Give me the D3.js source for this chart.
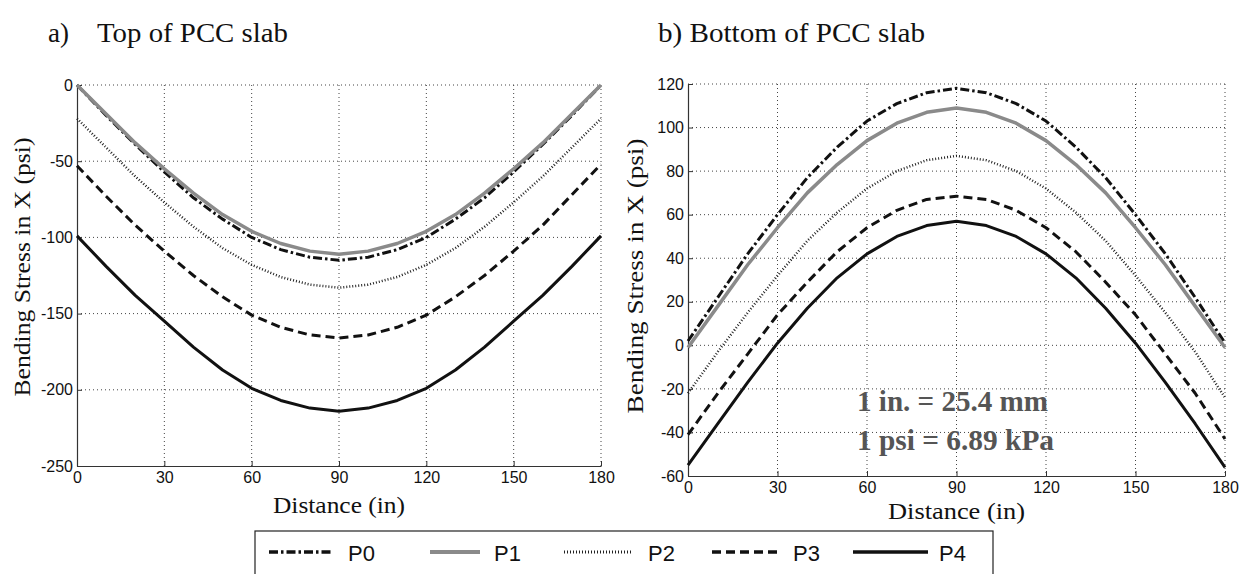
<!DOCTYPE html>
<html><head><meta charset="utf-8">
<script src="https://cdn.jsdelivr.net/npm/d3@7"></script>
<style>
html,body{margin:0;padding:0;background:#fff;}
svg{display:block;}
.serif{font-family:"Liberation Serif","Times New Roman",Times,serif;}
.sans{font-family:"Liberation Sans",Arial,Helvetica,sans-serif;}
</style></head>
<body>
<svg id="chart" width="1248" height="574"></svg>
<script>
// ---------- data ----------
const distance = [0,10,20,30,40,50,60,70,80,90,100,110,120,130,140,150,160,170,180];
const seriesNames = ["P0","P1","P2","P3","P4"];
// a) Top of PCC slab
const topP0 = [0,-20,-39,-57,-74,-88,-100,-108,-113,-115,-113,-108,-100,-88,-74,-57,-39,-20,0];
const topP1 = [0,-19,-38,-55,-71,-85,-96,-104,-109,-111,-109,-104,-96,-85,-71,-55,-38,-19,0];
const topP2 = [-22,-41,-60,-77,-93,-107,-118,-126,-131,-133,-131,-126,-118,-107,-93,-77,-60,-41,-22];
const topP3 = [-53,-73,-92,-109,-125,-139,-151,-159,-164,-166,-164,-159,-151,-139,-125,-109,-92,-72,-52];
const topP4 = [-99,-119,-138,-155,-172,-187,-199,-207,-212,-214,-212,-207,-199,-187,-172,-155,-138,-119,-99];
// b) Bottom of PCC slab
const botP0 = [2,22,42,60,77,91,103,111,116,118,116,111,103,91,77,60,42,22,1];
const botP1 = [-1,18,37,54,70,83,94,102,107,109,107,102,94,83,70,54,37,18,-1];
const botP2 = [-22,-3,15,32,48,61,72,80,85,87,85,80,72,61,48,32,15,-3,-24];
const botP3 = [-41,-22,-4,14,29,43,54,62,67,68.5,67,62,54,43,29,14,-4,-22,-43];
const botP4 = [-55,-36,-17,1,17,31,42,50,55,57,55,50,42,31,17,1,-17,-36,-56];
const xTicks = [0,30,60,90,120,150,180];
const topYTicks = [-250,-200,-150,-100,-50,0];
const botYTicks = [-60,-40,-20,0,20,40,60,80,100,120];
const titles = ["a)", "Top of PCC slab", "b) Bottom of PCC slab"];
const yLabel = "Bending Stress in X (psi)";
const xLabel = "Distance (in)";
const noteLines = ["1 in. = 25.4 mm", "1 psi = 6.89 kPa"];

// ---------- styles ----------
const styles = {
  P0: {stroke:"#111", width:3, dash:"9,3,2.5,3"},
  P1: {stroke:"#8a8a8a", width:3.5, dash:null},
  P2: {stroke:"#222", width:2.5, dash:"1,2"},
  P3: {stroke:"#111", width:3, dash:"9,5"},
  P4: {stroke:"#111", width:3, dash:null}
};

const svg = d3.select("#chart");

function panel(cfg){
  const x = d3.scaleLinear().domain([0,180]).range([cfg.x0, cfg.x1]);
  const y = d3.scaleLinear().domain(cfg.yDomain).range([cfg.y1, cfg.y0]);
  const g = svg.append("g");
  // grid
  g.append("g").selectAll("line").data(xTicks.filter(d=>d>0)).join("line")
    .attr("x1",d=>x(d)).attr("x2",d=>x(d)).attr("y1",cfg.y0).attr("y2",cfg.y1)
    .attr("stroke","#444").attr("stroke-width",1).attr("stroke-dasharray","1,3");
  g.append("g").selectAll("line").data(cfg.yTicks.filter(d=>d>cfg.yDomain[0])).join("line")
    .attr("x1",cfg.x0).attr("x2",cfg.x1).attr("y1",d=>y(d)).attr("y2",d=>y(d))
    .attr("stroke","#444").attr("stroke-width",1).attr("stroke-dasharray","1,3");
  // axes
  const fmt = d=>String(d);
  const ax = g.append("g").attr("transform",`translate(0,${cfg.y1})`)
    .call(d3.axisBottom(x).tickValues(xTicks).tickFormat(fmt).tickSize(-5).tickPadding(6).tickSizeOuter(0));
  const ay = g.append("g").attr("transform",`translate(${cfg.x0},0)`)
    .call(d3.axisLeft(y).tickValues(cfg.yTicks).tickFormat(fmt).tickSize(-5).tickPadding(4).tickSizeOuter(0));
  [ax,ay].forEach(a=>{
    a.attr("font-family",null).attr("font-size",null);
    a.select(".domain").attr("stroke","#333").attr("stroke-width",1.2);
    a.selectAll(".tick line").attr("stroke","#333");
    a.selectAll("text").attr("class","sans").attr("font-size",16).attr("fill","#111");
  });
  // lines
  const line = d3.line().x((d,i)=>x(distance[i])).y(d=>y(d));
  seriesNames.forEach((n,k)=>{
    const s = styles[n];
    g.append("path").datum(cfg.data[k]).attr("d",line).attr("fill","none")
      .attr("stroke",s.stroke).attr("stroke-width",s.width)
      .attr("stroke-dasharray",s.dash).attr("stroke-linejoin","round");
  });
  // labels
  g.append("text").attr("class","serif")
    .attr("transform",`translate(${cfg.ylx},${cfg.ylc}) rotate(-90)`)
    .attr("text-anchor","middle").attr("font-size",23)
    .attr("textLength",cfg.ylLen).attr("lengthAdjust","spacingAndGlyphs").attr("fill","#111").text(yLabel);
  g.append("text").attr("class","serif").attr("x",(cfg.x0+cfg.x1)/2).attr("y",cfg.xly)
    .attr("text-anchor","middle").attr("font-size",23)
    .attr("textLength",cfg.xlLen).attr("lengthAdjust","spacingAndGlyphs").attr("fill","#111").text(xLabel);
  return {x,y,g};
}

panel({x0:77,x1:601,y0:85,y1:466,yDomain:[-250,0],yTicks:topYTicks,
  data:[topP0,topP1,topP2,topP3,topP4], ylx:30, ylc:267, ylLen:259, xly:513, xlLen:132});
const right = panel({x0:688,x1:1225,y0:84,y1:476,yDomain:[-60,120],yTicks:botYTicks,
  data:[botP0,botP1,botP2,botP3,botP4], ylx:643, ylc:276, ylLen:275, xly:519, xlLen:137});

// note text
noteLines.forEach((t,i)=>{
  right.g.append("text").attr("class","serif").attr("x",857).attr("y",411+i*39)
    .attr("font-weight","bold").attr("font-size",29)
    .attr("textLength",i===0?191:197).attr("lengthAdjust","spacingAndGlyphs")
    .attr("fill","#555").text(t);
});

// titles
svg.append("text").attr("class","serif").attr("x",48).attr("y",42).attr("font-size",27).attr("fill","#111").text(titles[0]);
svg.append("text").attr("class","serif").attr("x",97).attr("y",42).attr("font-size",27)
  .attr("textLength",191).attr("lengthAdjust","spacingAndGlyphs").attr("fill","#111").text(titles[1]);
svg.append("text").attr("class","serif").attr("x",658).attr("y",42).attr("font-size",27)
  .attr("textLength",267).attr("lengthAdjust","spacingAndGlyphs").attr("fill","#111").text(titles[2]);

// legend
const leg = svg.append("g");
leg.append("rect").attr("x",255).attr("y",531).attr("width",738).attr("height",60)
  .attr("fill","#fff").attr("stroke","#222").attr("stroke-width",1.2);
const legItems = [
  {n:"P0", x1:269, x2:333, tx:348},
  {n:"P1", x1:430, x2:480, tx:494},
  {n:"P2", x1:564, x2:632, tx:648},
  {n:"P3", x1:712, x2:782, tx:793},
  {n:"P4", x1:853, x2:928, tx:939}
];
legItems.forEach(it=>{
  const s = styles[it.n];
  leg.append("line").attr("x1",it.x1).attr("x2",it.x2).attr("y1",552).attr("y2",552)
    .attr("stroke",s.stroke).attr("stroke-width",s.width+0.5).attr("stroke-dasharray",s.dash);
  leg.append("text").attr("class","sans").attr("x",it.tx).attr("y",561).attr("font-size",22)
    .attr("fill","#111").text(it.n);
});
</script>
</body></html>
